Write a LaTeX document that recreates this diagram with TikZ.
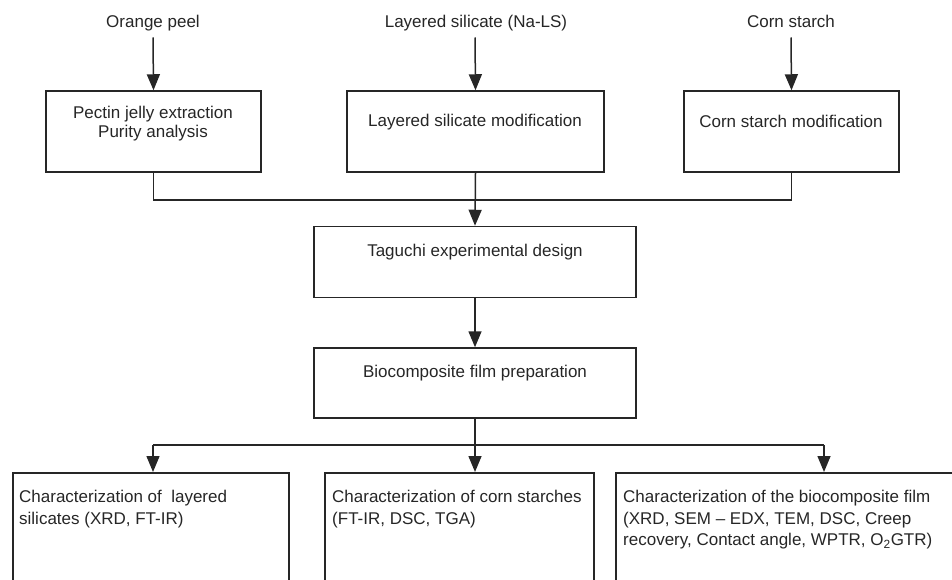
\documentclass[tikz,border=0pt]{standalone}
\usepackage{fontspec}
\setmainfont{Liberation Sans}
\usetikzlibrary{arrows.meta}

\tikzset{
  box/.style={draw=black!85, line width=1.5pt, fill=none, inner sep=0pt},
  txt/.style={inner sep=0pt, font=\fontsize{17}{19}\selectfont, text=black!85, align=center},
  one/.style={txt, text height=12.3pt, text depth=3.6pt},
  ltxt/.style={inner sep=0pt, font=\fontsize{17}{21.5}\selectfont, text=black!85, align=left, anchor=north west},
  flow/.style={draw=black!85, line width=1.5pt},
  arr/.style={flow, -{Triangle[length=16pt,width=13pt]}}
}

\begin{document}
\begin{tikzpicture}[x=1pt, y=-1pt]
  \useasboundingbox (0,0) rectangle (952,580);
  \clip (0,0) rectangle (952,580);

  % raw materials
  \node[one] (peel)  at (153,23)  {Orange peel};
  \node[one] (nals)  at (476,23)  {Layered silicate (Na-LS)};
  \node[one] (corn)  at (791,23)  {Corn starch};
  \coordinate (peelA) at (153,37.5);
  \coordinate (nalsA) at (475,37.5);
  \coordinate (cornA) at (791,37.5);

  % first processing stage
  \node[box, minimum width=215, minimum height=81] (pectin) at (153.5,131.5) {};
  \node[txt] (pectinT) at (153,123.5) {Pectin jelly extraction\\Purity analysis};
  \node[box, minimum width=257, minimum height=81] (silmod) at (475.5,131.5) {};
  \node[one] (silmodT) at (475,122.5) {Layered silicate modification};
  \node[box, minimum width=215, minimum height=81] (cornmod) at (791.5,131.5) {};
  \node[one] (cornmodT) at (791,123) {Corn starch modification};

  \draw[arr] (peelA) -- (pectin.north);
  \draw[arr] (nalsA) -- (silmod.north);
  \draw[arr] (cornA) -- (cornmod.north);

  % design and preparation
  \node[box, minimum width=322, minimum height=71] (taguchi) at (475,262) {};
  \node[one] (taguchiT) at (475,252) {Taguchi experimental design};
  \node[box, minimum width=322, minimum height=70] (prep) at (475,383) {};
  \node[one] (prepT) at (475,373.5) {Biocomposite film preparation};

  \coordinate (join) at (475,200);
  \draw[flow] (pectin.south) |- (join);
  \draw[flow] (cornmod.south) |- (join);
  \draw[arr] (silmod.south) -- (taguchi.north);
  \draw[arr] (taguchi.south) -- (prep.north);

  % characterisation boxes (running past the lower edge)
  \node[box, minimum width=276, minimum height=160, anchor=north west] (charLS) at (12,472) {};
  \node[ltxt] (charLST) at (19,490) {Characterization of \ layered\\silicates (XRD, FT-IR)};
  \node[box, minimum width=269, minimum height=160, anchor=north west] (charCS) at (324,472) {};
  \node[ltxt] (charCST) at (332,490) {Characterization of corn starches\\(FT-IR, DSC, TGA)};
  \node[box, minimum width=360, minimum height=160, anchor=north west] (charBF) at (615,472) {};
  \node[ltxt] (charBFT) at (623,490) {Characterization of the biocomposite film\\(XRD, SEM -- EDX, TEM, DSC, Creep\\recovery, Contact angle, WPTR, O\textsubscript{2}GTR)};

  \coordinate (split) at (475,445);
  \coordinate (splitL) at (153,445);
  \coordinate (splitR) at (824,445);
  \draw[flow] (prep.south) -- (split);
  \draw[flow] (splitL) -- (splitR);
  \draw[arr] (splitL) -- (splitL |- charLS.north);
  \draw[arr] (split) -- (split |- charCS.north);
  \draw[arr] (splitR) -- (splitR |- charBF.north);
\end{tikzpicture}
\end{document}
